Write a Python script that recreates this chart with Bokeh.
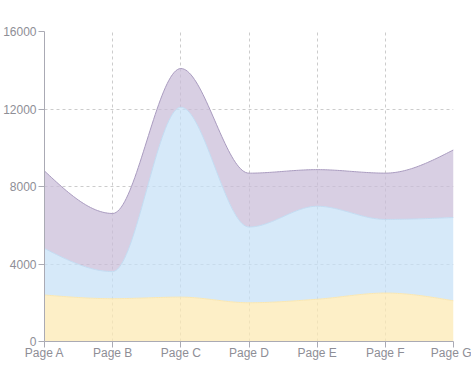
import numpy as np
from bokeh.plotting import figure
from bokeh.models import Range1d, FixedTicker
from bokeh.embed import file_html
from bokeh.resources import INLINE

pages = ["Page A", "Page B", "Page C", "Page D", "Page E", "Page F", "Page G"]
amt = [2400, 2210, 2290, 2000, 2181, 2500, 2100]
pv = [2400, 1398, 9800, 3908, 4800, 3800, 4300]
uv = [4000, 3000, 2000, 2780, 1890, 2390, 3490]
y_ticks = [0, 4000, 8000, 12000, 16000]


def monotone_x(xs, ys, n=40):
    xs = np.asarray(xs, float)
    ys = np.asarray(ys, float)
    m = len(xs)
    t = np.zeros(m)
    for i in range(1, m - 1):
        h0 = xs[i] - xs[i - 1]
        h1 = xs[i + 1] - xs[i]
        s0 = (ys[i] - ys[i - 1]) / h0
        s1 = (ys[i + 1] - ys[i]) / h1
        p = (s0 * h1 + s1 * h0) / (h0 + h1)
        t[i] = (np.sign(s0) + np.sign(s1)) * min(abs(s0), abs(s1), 0.5 * abs(p))
    h = xs[1] - xs[0]
    t[0] = (3 * (ys[1] - ys[0]) / h - t[1]) / 2
    h = xs[-1] - xs[-2]
    t[-1] = (3 * (ys[-1] - ys[-2]) / h - t[-2]) / 2
    ox, oy = [], []
    for i in range(m - 1):
        dx = xs[i + 1] - xs[i]
        u = np.linspace(0, 1, n, endpoint=(i == m - 2))
        h00 = 2 * u**3 - 3 * u**2 + 1
        h10 = u**3 - 2 * u**2 + u
        h01 = -2 * u**3 + 3 * u**2
        h11 = u**3 - u**2
        ox.extend(xs[i] + u * dx)
        oy.extend(h00 * ys[i] + h10 * dx * t[i] + h01 * ys[i + 1] + h11 * dx * t[i + 1])
    return np.array(ox), np.array(oy)


x = list(range(len(pages)))
s1 = np.array(amt, float)
s2 = s1 + np.array(pv, float)
s3 = s2 + np.array(uv, float)

cx, c1 = monotone_x(x, s1)
_, c2 = monotone_x(x, s2)
_, c3 = monotone_x(x, s3)

p = figure(width=471, height=377, output_backend="svg", toolbar_location=None,
           x_range=Range1d(0, 6), y_range=Range1d(0, 16000),
           min_border_left=42, min_border_right=18, min_border_top=31, min_border_bottom=36)
p.outline_line_color = None
p.background_fill_color = "white"

p.varea(x=cx, y1=np.zeros_like(c1), y2=c1, fill_color="#fce9b4", fill_alpha=0.75)
p.varea(x=cx, y1=c1, y2=c2, fill_color="#c6e1f7", fill_alpha=0.72)
p.varea(x=cx, y1=c2, y2=c3, fill_color="#c9bcd8", fill_alpha=0.72)
p.line(cx, c1, line_color="#fbe7b0", line_width=1)
p.line(cx, c2, line_color="#c2dcf2", line_width=1)
p.line(cx, c3, line_color="#a99bbf", line_width=1)

p.xaxis.ticker = FixedTicker(ticks=x)
p.xaxis.major_label_overrides = {i: s for i, s in enumerate(pages)}
p.yaxis.ticker = FixedTicker(ticks=y_ticks)
p.yaxis.formatter.use_scientific = False

for ax in (p.xaxis[0], p.yaxis[0]):
    ax.axis_line_color = "#aaaab4"
    ax.major_tick_line_color = "#aaaab4"
    ax.major_tick_out = 6
    ax.major_tick_in = 0
    ax.minor_tick_line_color = None
    ax.major_label_text_color = "#8e8e96"
    ax.major_label_text_font = "Liberation Sans"
    ax.major_label_text_font_size = "12px"
p.xaxis.major_label_standoff = -2
p.yaxis.major_label_standoff = 2

for g in (p.xgrid[0], p.ygrid[0]):
    g.grid_line_color = "#cccccc"
    g.grid_line_dash = "3 3"
    g.grid_line_width = 1
p.xgrid.ticker = FixedTicker(ticks=x)
p.ygrid.ticker = FixedTicker(ticks=y_ticks)

open("out.html", "w").write(file_html(p, INLINE))
